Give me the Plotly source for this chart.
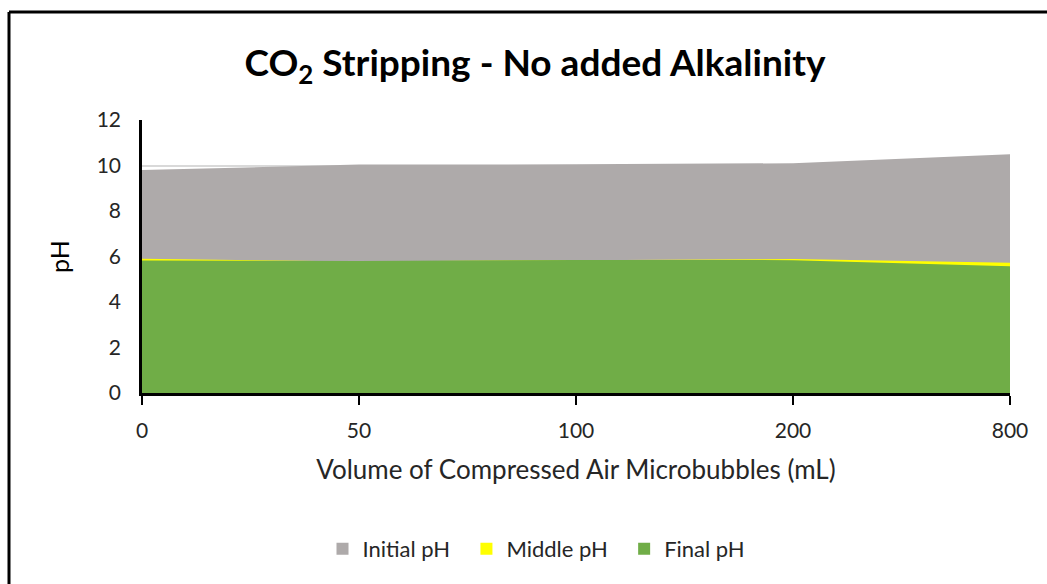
import plotly.graph_objects as go

categories = ["0", "50", "100", "200", "800"]
initial_ph = [9.80, 10.04, 10.05, 10.10, 10.50]
middle_ph = [5.90, 5.78, 5.84, 5.89, 5.73]
final_ph = [5.82, 5.80, 5.85, 5.84, 5.57]
series_names = ["Initial pH", "Middle pH", "Final pH"]
series_colors = ["#AEAAAA", "#FFFF00", "#70AD47"]

x_idx = list(range(len(categories)))
FONT = "Lato"

fig = go.Figure()
series = list(zip(series_names, [initial_ph, middle_ph, final_ph], series_colors))
for name, vals, col in series:
    fig.add_trace(go.Scatter(
        x=x_idx, y=vals, name=name, mode="lines",
        line=dict(width=0, color=col), fill="tozeroy", fillcolor=col,
        hoverinfo="x+y+name", legendgroup=name, showlegend=False,
    ))
# square legend keys
for name, vals, col in series:
    fig.add_trace(go.Bar(
        x=[None], y=[None], name=name + "\u00a0\u00a0",
        marker=dict(color=col, line=dict(width=0)),
        legendgroup=name, showlegend=True, hoverinfo="skip",
    ))

fig.update_layout(
    width=1047, height=584,
    margin=dict(l=142, r=37, t=120, b=191),
    paper_bgcolor="white", plot_bgcolor="white",
    font=dict(family=FONT, color="#262626"),
    title=dict(
        text="<b>CO<sub>2</sub> Stripping - No added Alkalinity</b>",
        x=535/1047, xanchor="center", xref="container",
        y=1 - 63/584, yanchor="middle", yref="container",
        font=dict(size=37, color="black", family=FONT),
    ),
    showlegend=True,
    legend=dict(
        orientation="h", x=542/1047, xanchor="center", xref="container",
        y=1 - 549/584, yanchor="middle", yref="container",
        font=dict(size=22, color="#262626"),
        traceorder="normal", itemclick=False, itemdoubleclick=False,
    ),
    xaxis=dict(
        range=[0, len(categories) - 1], tickmode="array", tickvals=x_idx,
        ticktext=categories, showgrid=False, zeroline=False,
        showline=True, linecolor="black", linewidth=2.5,
        ticks="outside", ticklen=9, tickwidth=2, tickcolor="black",
        tickfont=dict(size=21, color="#262626"), ticklabelstandoff=8,
        title=dict(text="Volume of Compressed Air Microbubbles (mL)",
                   font=dict(size=26, color="#262626"), standoff=20),
    ),
    yaxis=dict(
        range=[0, 12], dtick=2, showgrid=True, gridcolor="#D9D9D9", gridwidth=2,
        zeroline=False, showline=True, linecolor="black", linewidth=2.5,
        ticks="", tickfont=dict(size=21, color="#262626"),
        ticklabelstandoff=14,
        title=dict(text="pH", font=dict(size=25, color="black"), standoff=20),
    ),
)

# outer chart border (left and top edges visible)
x_left = (9 - 142) / 868
y_top = (393 - 12) / 273
fig.add_shape(type="line", xref="paper", yref="paper",
              x0=x_left, x1=x_left, y0=y_top, y1=-1.0,
              line=dict(color="black", width=3))
fig.add_shape(type="line", xref="paper", yref="paper",
              x0=x_left, x1=1.1, y0=y_top, y1=y_top,
              line=dict(color="black", width=3))

fig.write_html("out.html")
